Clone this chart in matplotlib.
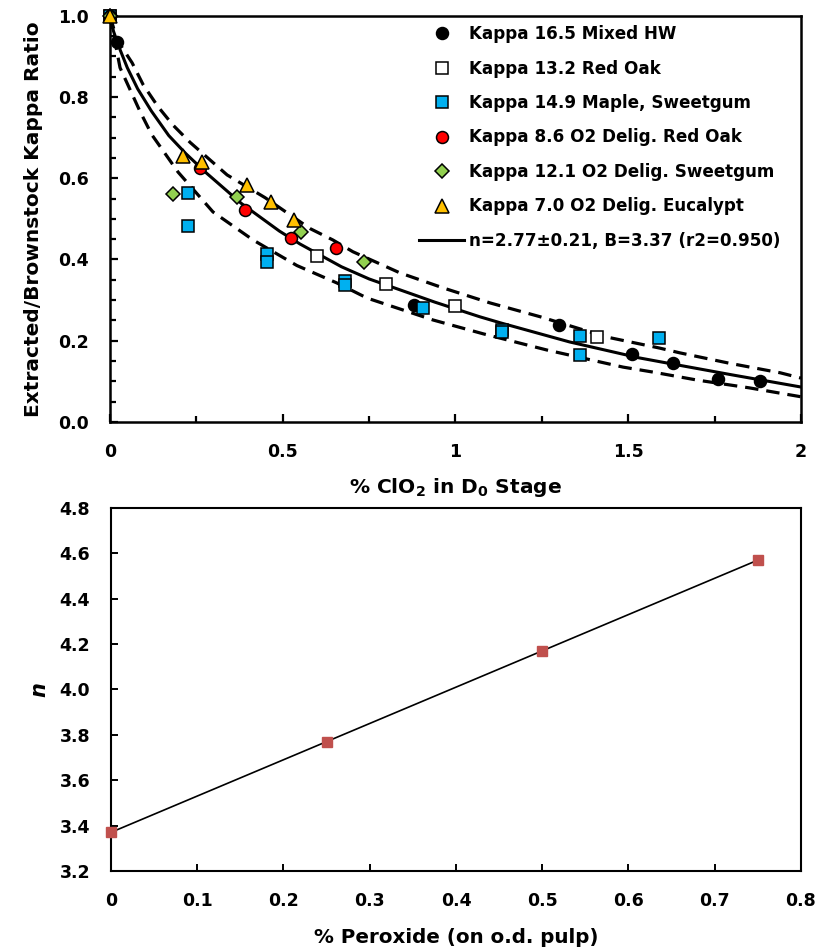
import matplotlib
matplotlib.use("Agg")
import matplotlib.pyplot as plt
from matplotlib.ticker import MultipleLocator, FormatStrFormatter, FuncFormatter

plt.rcParams["font.family"] = ["DejaVu Sans"]
plt.rcParams["font.weight"] = "bold"
plt.rcParams["mathtext.fontset"] = "custom"
plt.rcParams["mathtext.rm"] = "DejaVu Sans:bold"
plt.rcParams["mathtext.it"] = "DejaVu Sans:bold:italic"
plt.rcParams["mathtext.bf"] = "DejaVu Sans:bold"

# ---- Extracted / brownstock kappa ratio vs ClO2 charge ----
mixed_hw_x = [0, 0.02, 0.88, 1.30, 1.51, 1.63, 1.76, 1.88]
mixed_hw_y = [1.0, 0.935, 0.288, 0.238, 0.167, 0.144, 0.106, 0.101]

red_oak_x = [0, 0.60, 0.80, 1.00, 1.41]
red_oak_y = [1.0, 0.409, 0.340, 0.286, 0.209]

maple_x = [0, 0.226, 0.226, 0.454, 0.454, 0.68, 0.68, 0.906, 1.134, 1.134, 1.36, 1.36, 1.589]
maple_y = [1.0, 0.564, 0.483, 0.414, 0.394, 0.346, 0.337, 0.281, 0.226, 0.221, 0.212, 0.165, 0.207]

o2_red_oak_x = [0, 0.26, 0.391, 0.524, 0.654]
o2_red_oak_y = [1.0, 0.626, 0.522, 0.453, 0.428]

o2_sweetgum_x = [0, 0.183, 0.368, 0.553, 0.735]
o2_sweetgum_y = [1.0, 0.561, 0.554, 0.468, 0.394]

o2_eucalypt_x = [0, 0.211, 0.266, 0.396, 0.465, 0.532]
o2_eucalypt_y = [1.0, 0.655, 0.640, 0.583, 0.541, 0.497]

# fitted curve and its confidence bounds
fit_x = [0, 0.01, 0.025, 0.05, 0.08, 0.12, 0.17, 0.22, 0.28, 0.38, 0.49, 0.55,
         0.67, 0.75, 0.94, 1.07, 1.13, 1.33, 1.53, 1.60, 1.80, 2.0]
fit_y = [1.0, 0.962, 0.925, 0.872, 0.820, 0.765, 0.705, 0.660, 0.612, 0.538, 0.470, 0.438,
         0.382, 0.352, 0.295, 0.259, 0.244, 0.197, 0.158, 0.147, 0.116, 0.086]

upper_x = [0, 0.02, 0.064, 0.096, 0.139, 0.182, 0.232, 0.339, 0.449, 0.579, 0.645, 0.703,
           0.839, 0.964, 1.10, 1.245, 1.438, 1.59, 1.65, 1.79, 1.94, 2.0]
upper_y = [1.0, 0.941, 0.884, 0.830, 0.776, 0.731, 0.688, 0.608, 0.552, 0.476, 0.448, 0.419,
           0.367, 0.330, 0.293, 0.259, 0.209, 0.182, 0.170, 0.145, 0.121, 0.108]

lower_x = [0, 0.029, 0.058, 0.087, 0.121, 0.15, 0.197, 0.298, 0.414, 0.541, 0.657, 0.744,
           0.935, 1.08, 1.265, 1.485, 1.57, 1.70, 1.85, 2.0]
lower_y = [1.0, 0.872, 0.818, 0.764, 0.707, 0.672, 0.615, 0.517, 0.448, 0.385, 0.342, 0.305,
           0.251, 0.217, 0.177, 0.135, 0.123, 0.103, 0.084, 0.062]

fit_label = "n=2.77\u00b10.21, B=3.37 (r2=0.950)"

# ---- n vs peroxide charge ----
peroxide = [0, 0.25, 0.5, 0.75]
n_values = [3.37, 3.77, 4.17, 4.57]

fig = plt.figure(figsize=(8.21, 9.51), dpi=100)

ax1 = fig.add_axes([0.134, 0.5563, 0.8416, 0.4272])
dash = (0, (4.2, 2.5))
ax1.plot(lower_x, lower_y, color="black", lw=2.3, ls=dash, zorder=2)
ax1.plot(upper_x, upper_y, color="black", lw=2.3, ls=dash, zorder=2)
fit_line, = ax1.plot(fit_x, fit_y, color="black", lw=2.2, zorder=2, label=fit_label)

ms = 8.6
mew = 1.1
common = dict(ls="none", mew=mew, mec="black", zorder=3, clip_on=False)
h1, = ax1.plot(mixed_hw_x, mixed_hw_y, marker="o", mfc="black", ms=ms,
               label="Kappa 16.5 Mixed HW", **common)
h2, = ax1.plot(red_oak_x, red_oak_y, marker="s", mfc="white", ms=ms - 0.4,
               label="Kappa 13.2 Red Oak", **common)
h3, = ax1.plot(maple_x, maple_y, marker="s", mfc="#00B0F0", ms=ms - 0.4,
               label="Kappa 14.9 Maple, Sweetgum", **common)
h4, = ax1.plot(o2_red_oak_x, o2_red_oak_y, marker="o", mfc="#FF0000", ms=ms,
               label="Kappa 8.6 O2 Delig. Red Oak", **common)
h5, = ax1.plot(o2_sweetgum_x, o2_sweetgum_y, marker="D", mfc="#92D050", ms=ms - 1.6,
               label="Kappa 12.1 O2 Delig. Sweetgum", **common)
h6, = ax1.plot(o2_eucalypt_x, o2_eucalypt_y, marker="^", mfc="#FFC000", ms=ms + 1.2,
               label="Kappa 7.0 O2 Delig. Eucalypt", **common)

ax1.set_xlim(0, 2)
ax1.set_ylim(0, 1.0)
ax1.xaxis.set_major_locator(MultipleLocator(0.5))
ax1.xaxis.set_minor_locator(MultipleLocator(0.25))
ax1.yaxis.set_major_locator(MultipleLocator(0.2))
ax1.yaxis.set_minor_locator(MultipleLocator(0.05))
ax1.xaxis.set_major_formatter(FuncFormatter(lambda v, p: f"{v:g}"))
ax1.yaxis.set_major_formatter(FormatStrFormatter("%.1f"))
ax1.tick_params(which="both", direction="in", top=False, right=False, width=1.6,
                labelsize=12.5)
ax1.tick_params(which="major", length=6)
ax1.tick_params(which="minor", length=4)
ax1.tick_params(axis="y", which="both", pad=15)
ax1.tick_params(axis="x", which="both", pad=15)
for s in ax1.spines.values():
    s.set_linewidth(1.8)
ax1.set_xlabel("% ClO$_2$ in D$_0$ Stage", fontsize=14.5, fontweight="bold", labelpad=11)
ax1.set_ylabel("Extracted/Brownstock Kappa Ratio", fontsize=14.5, fontweight="bold", labelpad=11)

leg = ax1.legend(handles=[h1, h2, h3, h4, h5, h6, fit_line], loc="upper left",
                 bbox_to_anchor=(0.447, 0.977), frameon=False, fontsize=12.1,
                 handlelength=2.7, handletextpad=0.3, labelspacing=0.98,
                 borderpad=0, borderaxespad=0)
for t in leg.get_texts():
    t.set_fontweight("bold")

# ---- bottom panel ----
ax2 = fig.add_axes([0.1352, 0.0842, 0.8404, 0.3817])
ax2.plot(peroxide, n_values, color="black", lw=1.2, zorder=2)
ax2.plot(peroxide, n_values, ls="none", marker="s", color="#C0504D", ms=7.3,
         zorder=3, clip_on=False)
ax2.set_xlim(0, 0.8)
ax2.set_ylim(3.2, 4.8)
ax2.xaxis.set_major_locator(MultipleLocator(0.1))
ax2.yaxis.set_major_locator(MultipleLocator(0.2))
ax2.xaxis.set_major_formatter(FuncFormatter(lambda v, p: f"{v:g}"))
ax2.yaxis.set_major_formatter(FormatStrFormatter("%.1f"))
ax2.tick_params(direction="in", top=False, right=False, length=5, width=1.4,
                labelsize=12.5, pad=15)
for s in ax2.spines.values():
    s.set_linewidth(1.5)
ax2.set_xlabel("% Peroxide (on o.d. pulp)", fontsize=14.3, fontweight="bold", labelpad=13)
ax2.set_ylabel("n", fontsize=15, fontweight="bold", fontstyle="italic", labelpad=7)

fig.savefig("out.png", dpi=100)
